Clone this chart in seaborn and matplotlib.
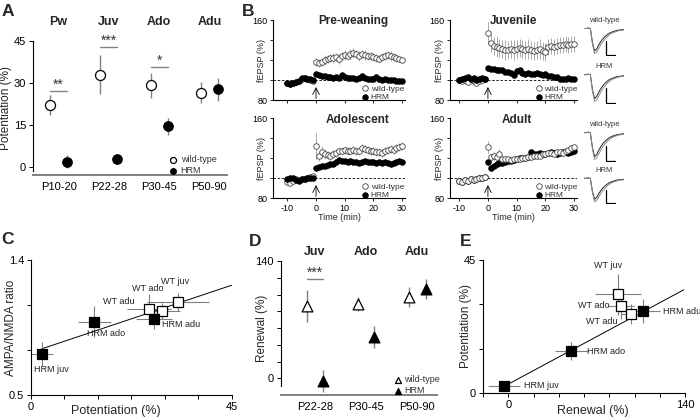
import numpy as np
import matplotlib
matplotlib.use("Agg")
import matplotlib.pyplot as plt
import seaborn as sns

# ---------------- data ----------------
# A: potentiation by age
ages_a = ["P10-20", "P22-28", "P30-45", "P50-90"]
stages_a = ["Pw", "Juv", "Ado", "Adu"]
pot_wt = [22.0, 33.0, 29.2, 26.5]
pot_wt_err = [3.5, 7.0, 4.5, 3.7]
pot_hrm = [1.8, 2.7, 14.5, 27.7]
pot_hrm_err = [2.2, 1.5, 3.0, 4.2]
sig_a_group = [0, 1, 2]
sig_a_y = [27.2, 42.9, 35.7]
sig_a_text = ["**", "***", "*"]

# B: fEPSP time courses (one point per minute, -10 .. 30)
minutes = list(range(-10, 31))
pw_wt = [97, 96, 97, 98, 99, 101, 102, 101, 100, 99,
         118, 117, 118, 120, 121, 122, 122, 123, 121, 124,
         125, 124, 126, 127, 126, 124, 126, 125, 124, 124,
         123, 122, 121, 123, 124, 125, 124, 123, 122, 121, 120]
pw_wt_err = [1, 1, 1, 1, 1, 1, 1, 1, 1, 1,
             4, 4, 4, 5, 4, 4, 5, 4, 5, 4,
             5, 4, 5, 5, 4, 5, 4, 5, 4, 4,
             4, 4, 4, 4, 4, 4, 5, 4, 4, 3, 3]
pw_hrm = [97, 96, 97, 98, 99, 102, 102, 101, 101, 100,
          106, 105, 104, 104, 103, 103, 102, 103, 102, 105,
          103, 102, 102, 102, 101, 102, 104, 102, 101, 101,
          101, 103, 101, 100, 101, 100, 100, 100, 99, 99, 99]
pw_hrm_err = [1, 1, 1, 1, 1, 1, 1, 1, 1, 1,
              2, 2, 2, 2, 2, 2, 2, 2, 2, 2,
              2, 2, 2, 2, 2, 2, 2, 2, 2, 2,
              2, 2, 2, 2, 2, 2, 2, 2, 2, 2, 2]

juv_wt = [100, 99, 100, 98, 101, 99, 97, 99, 100, 101,
          147, 137, 134, 133, 132, 131, 130, 130, 131, 130,
          131, 132, 131, 130, 131, 130, 129, 130, 131, 129,
          128, 133, 134, 133, 134, 135, 135, 136, 135, 136, 136]
juv_wt_err = [2, 2, 2, 2, 2, 2, 2, 2, 2, 2,
              11, 9, 9, 10, 9, 9, 10, 9, 9, 10,
              9, 9, 9, 9, 10, 9, 9, 9, 10, 9,
              9, 8, 8, 8, 8, 8, 8, 8, 8, 8, 8]
juv_hrm = [100, 101, 102, 103, 101, 102, 100, 101, 102, 101,
           112, 111, 111, 110, 110, 110, 108, 108, 107, 105,
           109, 110, 107, 106, 107, 106, 106, 107, 106, 105,
           106, 104, 104, 103, 103, 101, 101, 101, 102, 101, 101]
juv_hrm_err = [1, 1, 1, 1, 1, 1, 1, 1, 1, 1,
               2, 2, 2, 2, 2, 2, 2, 2, 2, 2,
               2, 2, 2, 2, 2, 2, 2, 2, 2, 2,
               2, 2, 2, 2, 2, 2, 2, 2, 2, 2, 2]

ado_wt = [96, 95, 97, 99, 98, 99, 99, 100, 101, 102,
          132, 122, 126, 124, 123, 122, 124, 125, 127, 127,
          128, 127, 127, 128, 127, 127, 130, 129, 128, 127,
          127, 126, 126, 125, 127, 128, 129, 128, 130, 131, 132]
ado_wt_err = [1, 1, 1, 1, 1, 1, 1, 1, 1, 1,
              13, 5, 6, 5, 4, 4, 4, 4, 4, 4,
              4, 4, 4, 4, 4, 4, 4, 4, 4, 4,
              4, 4, 4, 4, 4, 4, 4, 4, 4, 4, 4]
ado_hrm = [99, 100, 100, 98, 97, 99, 99, 100, 100, 100,
           110, 111, 112, 112, 113, 114, 114, 116, 118, 117,
           117, 116, 117, 116, 116, 115, 116, 117, 116, 116,
           116, 115, 116, 115, 116, 115, 114, 115, 116, 117, 116]
ado_hrm_err = [1, 1, 1, 1, 1, 1, 1, 1, 1, 1,
               2, 2, 2, 2, 2, 2, 2, 2, 2, 2,
               2, 2, 2, 2, 2, 2, 2, 2, 2, 2,
               2, 2, 2, 2, 2, 2, 2, 2, 2, 2, 2]

adu_wt = [97, 96, 98, 97, 99, 98, 99, 100, 100, 101,
          131, 121, 122, 121, 124, 119, 119, 119, 118, 119,
          119, 119, 120, 120, 121, 121, 122, 122, 122, 124,
          124, 125, 125, 124, 126, 126, 125, 127, 128, 130, 131]
adu_wt_err = [1, 1, 1, 1, 1, 1, 1, 1, 1, 1,
              6, 4, 4, 4, 5, 3, 3, 3, 3, 3,
              3, 3, 3, 3, 3, 3, 3, 3, 3, 3,
              3, 3, 3, 3, 3, 3, 3, 3, 3, 3, 3]
adu_hrm = [97, 96, 98, 97, 99, 98, 99, 100, 100, 101,
           116, 110, 112, 114, 115, 115, 116, 117, 117, 118,
           119, 120, 120, 120, 121, 126, 124, 124, 125, 124,
           124, 125, 126, 125, 124, 125, 126, 126, 125, 126, 127]
adu_hrm_err = [1, 1, 1, 1, 1, 1, 1, 1, 1, 1,
               2, 2, 2, 2, 2, 2, 2, 2, 2, 2,
               2, 2, 2, 2, 2, 2, 2, 2, 2, 2,
               2, 2, 2, 2, 2, 2, 2, 2, 2, 2, 2]

# example traces (arbitrary units)
trace_pre = [0.0, 0.0, 0.02, 0.0, -0.55, -0.9, -0.82, -0.66, -0.52, -0.41,
             -0.32, -0.25, -0.19, -0.15, -0.12, -0.09, -0.07, -0.06, -0.05, -0.04]
trace_post = [0.0, 0.0, 0.02, 0.0, -0.6, -1.0, -0.95, -0.8, -0.65, -0.52,
              -0.42, -0.33, -0.26, -0.2, -0.16, -0.13, -0.1, -0.08, -0.07, -0.06]

# C: AMPA/NMDA vs potentiation
c_labels = ["WT juv", "WT ado", "WT adu", "HRM adu", "HRM ado", "HRM juv"]
c_geno = ["WT", "WT", "WT", "HRM", "HRM", "HRM"]
c_pot = [32.9, 26.4, 29.3, 27.5, 14.2, 2.4]
c_pot_err = [7.0, 5.0, 4.0, 4.0, 3.7, 2.5]
c_ratio = [1.12, 1.073, 1.06, 1.01, 0.99, 0.773]
c_ratio_err = [0.06, 0.10, 0.05, 0.07, 0.10, 0.08]
c_label_off = [(-3, 20), (-1, 21), (-43, 9), (27, -6), (12, -12), (10, -15)]

# D: renewal by age
ages_d = ["P22-28", "P30-45", "P50-90"]
stages_d = ["Juv", "Ado", "Adu"]
ren_wt = [86, 88.5, 97]
ren_wt_err = [19, 8, 12]
ren_hrm = [-3.6, 49, 106.5]
ren_hrm_err = [13, 13, 12]

# E: potentiation vs renewal
e_labels = ["WT juv", "WT ado", "WT adu", "HRM adu", "HRM ado", "HRM juv"]
e_geno = ["WT", "WT", "WT", "HRM", "HRM", "HRM"]
e_ren = [87, 89.4, 97, 107, 50, -3.2]
e_ren_err = [18, 10, 8, 13.5, 13, 12.5]
e_pot = [33.4, 29.4, 26.7, 27.7, 14.2, 2.4]
e_pot_err = [7, 4.5, 3.5, 4, 3, 1.5]
e_label_off = [(-10, 29), (-27, 1), (-29, -7), (39, 0), (35, 0), (37, 0)]

# ---------------- style ----------------
sns.set_theme(style="ticks")
plt.rcParams["font.family"] = ["Liberation Sans", "DejaVu Sans"]
plt.rcParams["axes.edgecolor"] = "black"
plt.rcParams["axes.linewidth"] = 0.8
plt.rcParams["xtick.color"] = "black"
plt.rcParams["ytick.color"] = "black"
plt.rcParams["axes.unicode_minus"] = False

W, H = 700, 420
GRAY = "#808080"
fig = plt.figure(figsize=(7, 4.2), dpi=100)


def px_box(x0, y0, x1, y1):
    return [x0 / W, 1 - y1 / H, (x1 - x0) / W, (y1 - y0) / H]


def letter(x, y, s):
    fig.text(x / W, 1 - y / H, s, fontsize=12.5, fontweight="bold", ha="center", va="center")


def place_ylabel(ax, text, size, xfrac):
    ax.set_ylabel(text, fontsize=size)
    ax.yaxis.label.set_va("center")
    ax.yaxis.set_label_coords(xfrac, 0.5)


def place_xlabel(ax, text, size, xfrac, yfrac):
    ax.set_xlabel(text, fontsize=size)
    ax.xaxis.label.set_va("center")
    ax.xaxis.set_label_coords(xfrac, yfrac)


# ---------------- A ----------------
axA = fig.add_axes(px_box(33, 41, 227, 175))
grp = np.arange(len(ages_a))
off = 0.17
axA.errorbar(grp - off, pot_wt, yerr=pot_wt_err, fmt="none", ecolor=GRAY, elinewidth=1.0, zorder=2)
axA.errorbar(grp + off, pot_hrm, yerr=pot_hrm_err, fmt="none", ecolor=GRAY, elinewidth=1.0, zorder=2)
sns.scatterplot(x=grp - off, y=pot_wt, ax=axA, marker="o", s=52, color="white",
                edgecolor="black", linewidth=0.9, zorder=3, label="wild-type")
sns.scatterplot(x=grp + off, y=pot_hrm, ax=axA, marker="o", s=46, color="black",
                edgecolor="black", linewidth=0.9, zorder=3, label="HRM")
for g, yv, t in zip(sig_a_group, sig_a_y, sig_a_text):
    axA.plot([g - off, g + off], [yv, yv], color=GRAY, lw=1.0)
    axA.text(g, yv - 0.3, t, ha="center", va="bottom", fontsize=10, color="#333333")
for g, s in zip(grp, stages_a):
    axA.text(g, 51.8, s, ha="center", va="center", fontsize=9, fontweight="bold", clip_on=False)
axA.set_xlim(-0.51, 3.35)
axA.set_ylim(-3, 45)
axA.set_yticks([0, 15, 30, 45])
axA.set_xticks(grp)
axA.set_xticklabels(ages_a)
axA.tick_params(axis="x", length=0, pad=5, labelsize=8)
axA.tick_params(axis="y", length=3, width=0.7, pad=2, labelsize=8)
axA.spines[["top", "right"]].set_visible(False)
axA.spines["left"].set_bounds(-1.5, 45)
axA.spines["bottom"].set_color(GRAY)
axA.spines["bottom"].set_linewidth(1.4)
place_ylabel(axA, "Potentiation (%)", 8.5, -0.137)
axA.legend(loc="lower left", bbox_to_anchor=(0.7, 0.0), frameon=False, fontsize=6.5,
           handletextpad=0.3, labelspacing=0.2, borderaxespad=0, borderpad=0,
           handlelength=1.0, markerscale=0.6, labelcolor="#333333")
letter(8, 12, "A")


# ---------------- B ----------------
def ltp_panel(box, xmin, wt, wt_err, hrm, hrm_err, title, title_x, bottom_row, wt_on_top=False):
    ax = fig.add_axes(px_box(*box))
    ax.axhline(100, color="black", lw=0.6, ls=(0, (3, 2)), zorder=1)
    z_wt, z_hrm = (5, 4) if wt_on_top else (3, 4)
    ax.errorbar(minutes, wt, yerr=wt_err, fmt="none", ecolor="#9a9a9a", elinewidth=0.6, zorder=2)
    ax.errorbar(minutes, hrm, yerr=hrm_err, fmt="none", ecolor="#555555", elinewidth=0.6, zorder=2)
    sns.scatterplot(x=minutes, y=wt, ax=ax, marker="o", s=16, color="white", edgecolor="#444444",
                    linewidth=0.6, zorder=z_wt, label="wild-type")
    sns.scatterplot(x=minutes, y=hrm, ax=ax, marker="o", s=16, color="black", edgecolor="black",
                    linewidth=0.6, zorder=z_hrm, label="HRM")
    ax.annotate("", xy=(0, 93), xytext=(0, 81.5),
                arrowprops=dict(arrowstyle="->", lw=0.6, color="black", shrinkA=0, shrinkB=0))
    ax.set_xlim(xmin, 31)
    ax.set_ylim(80, 160)
    ax.set_xticks([-10, 0, 10, 20, 30])
    ax.set_yticks([80, 100, 120, 140, 160])
    ax.set_yticklabels(["80", "", "", "", "160"])
    ax.tick_params(axis="both", length=2.5, width=0.6, pad=1.5, labelsize=6.5)
    if bottom_row:
        ax.set_xlabel("Time (min)", fontsize=6.5, labelpad=0)
    else:
        ax.tick_params(axis="x", labelbottom=False)
    ax.spines[["top", "right"]].set_visible(False)
    place_ylabel(ax, "fEPSP (%)", 6.5, -0.085)
    ax.text(title_x, 0.99 if not bottom_row else 0.975, title, transform=ax.transAxes,
            ha="center", va="center", fontsize=8.5, fontweight="bold")
    ax.legend(loc="lower left", bbox_to_anchor=(0.66, -0.01), frameon=False, fontsize=6,
              handletextpad=0.05, labelspacing=0.05, borderaxespad=0, borderpad=0,
              handlelength=1.2, labelcolor="#333333")
    return ax


ltp_panel((273, 20, 405, 100), -15, pw_wt, pw_wt_err, pw_hrm, pw_hrm_err, "Pre-weaning", 0.61, False)
ltp_panel((450, 20, 577, 100), -13.2, juv_wt, juv_wt_err, juv_hrm, juv_hrm_err, "Juvenile", 0.50, False)
ltp_panel((273, 118, 405, 198), -15, ado_wt, ado_wt_err, ado_hrm, ado_hrm_err, "Adolescent", 0.64, True)
ltp_panel((450, 118, 577, 198), -13.2, adu_wt, adu_wt_err, adu_hrm, adu_hrm_err, "Adult", 0.53, True,
          wt_on_top=True)
letter(248, 11, "B")

# example traces
trace_boxes = [(584, 26, 624, 56), (584, 72, 624, 104), (584, 130, 624, 162), (584, 176, 624, 204)]
trace_names = ["wild-type", "HRM", "wild-type", "HRM"]
for (x0, y0, x1, y1), name in zip(trace_boxes, trace_names):
    axt = fig.add_axes(px_box(x0, y0, x1, y1))
    sns.lineplot(x=range(len(trace_pre)), y=trace_pre, ax=axt, color="#222222", lw=0.7)
    sns.lineplot(x=range(len(trace_post)), y=trace_post, ax=axt, color="#8a8a8a", lw=0.7)
    axt.plot([10.5, 10.5, 14.5], [-0.5, -1.05, -1.05], color="black", lw=0.9)
    axt.set_xlim(0, 19)
    axt.set_ylim(-1.1, 0.1)
    axt.axis("off")
    fig.text((x0 + 20) / W, 1 - (y0 - 6) / H, name, fontsize=5.5, ha="center", va="center", color="#333333")

# ---------------- C ----------------
axC = fig.add_axes(px_box(31, 260, 232, 395))
fit_c = np.polyfit(c_pot, c_ratio, 1)
xl = np.array([min(c_pot), 45])
axC.plot(xl, np.polyval(fit_c, xl), color="black", lw=0.7, zorder=1)
axC.errorbar(c_pot, c_ratio, xerr=c_pot_err, yerr=c_ratio_err, fmt="none", ecolor=GRAY,
             elinewidth=0.8, zorder=2)
for geno, face in [("WT", "white"), ("HRM", "black")]:
    xs = [p for p, g in zip(c_pot, c_geno) if g == geno]
    ys = [r for r, g in zip(c_ratio, c_geno) if g == geno]
    sns.scatterplot(x=xs, y=ys, ax=axC, marker="s", s=42, color=face, edgecolor="black",
                    linewidth=0.9, zorder=3)
for lab, x, y, (dx, dy) in zip(c_labels, c_pot, c_ratio, c_label_off):
    axC.annotate(lab, (x, y), xytext=(dx * 0.72, dy * 0.72), textcoords="offset points",
                 ha="center", va="center", fontsize=6.5, color="#222222")
axC.set_xlim(0, 45)
axC.set_ylim(0.5, 1.4)
axC.set_xticks([0, 7.5, 15, 22.5, 30, 37.5, 45])
axC.set_xticklabels(["0", "", "", "", "", "", "45"])
axC.set_yticks([0.5, 0.8, 1.1, 1.4])
axC.set_yticklabels(["0.5", "", "", "1.4"])
axC.tick_params(axis="both", length=3, width=0.7, pad=2, labelsize=8)
axC.spines[["top", "right"]].set_visible(False)
place_ylabel(axC, "AMPA/NMDA ratio", 8.5, -0.1)
place_xlabel(axC, "Potentiation (%)", 9, 0.42, -0.12)
letter(7, 240, "C")

# ---------------- D ----------------
axD = fig.add_axes(px_box(281, 261, 437, 395))
grp_d = np.arange(len(ages_d))
off_d = 0.165
axD.errorbar(grp_d - off_d, ren_wt, yerr=ren_wt_err, fmt="none", ecolor=GRAY, elinewidth=1.0, zorder=2)
axD.errorbar(grp_d + off_d, ren_hrm, yerr=ren_hrm_err, fmt="none", ecolor=GRAY, elinewidth=1.0, zorder=2)
sns.scatterplot(x=grp_d - off_d, y=ren_wt, ax=axD, marker="^", s=60, color="white",
                edgecolor="black", linewidth=0.9, zorder=3, label="wild-type")
sns.scatterplot(x=grp_d + off_d, y=ren_hrm, ax=axD, marker="^", s=60, color="black",
                edgecolor="black", linewidth=0.9, zorder=3, label="HRM")
axD.plot([0 - off_d, 0 + off_d], [118.7, 118.7], color=GRAY, lw=1.0)
axD.text(0, 118, "***", ha="center", va="bottom", fontsize=10, color="#333333")
for g, s in zip(grp_d, stages_d):
    axD.text(g, 150.4, s, ha="center", va="center", fontsize=9, fontweight="bold", clip_on=False)
axD.set_xlim(-0.667, 2.39)
axD.set_ylim(-20, 140)
axD.set_yticks([0, 20, 40, 60, 80, 100, 120, 140])
axD.set_yticklabels(["0", "", "", "", "", "", "", "140"])
axD.set_xticks(grp_d)
axD.set_xticklabels(ages_d)
axD.tick_params(axis="x", length=0, pad=5, labelsize=8)
axD.tick_params(axis="y", length=3, width=0.7, pad=2, labelsize=8)
axD.spines[["top", "right"]].set_visible(False)
axD.spines["left"].set_bounds(-9, 140)
axD.spines["bottom"].set_color(GRAY)
axD.spines["bottom"].set_linewidth(1.4)
place_ylabel(axD, "Renewal (%)", 8.5, -0.12)
axD.legend(loc="lower left", bbox_to_anchor=(0.72, 0.0), frameon=False, fontsize=6.5,
           handletextpad=0.2, labelspacing=0.2, borderaxespad=0, borderpad=0,
           handlelength=1.0, markerscale=0.55, labelcolor="#333333")
letter(255, 242, "D")

# ---------------- E ----------------
axE = fig.add_axes(px_box(483, 260, 685, 393))
hrm_x = [r for r, g in zip(e_ren, e_geno) if g == "HRM"]
hrm_y = [p for p, g in zip(e_pot, e_geno) if g == "HRM"]
fit_e = np.polyfit(hrm_x, hrm_y, 1)
xl = np.array([min(e_ren), 139])
axE.plot(xl, np.polyval(fit_e, xl), color="black", lw=0.7, zorder=1)
axE.errorbar(e_ren, e_pot, xerr=e_ren_err, yerr=e_pot_err, fmt="none", ecolor=GRAY,
             elinewidth=0.8, zorder=2)
for geno, face in [("WT", "white"), ("HRM", "black")]:
    xs = [r for r, g in zip(e_ren, e_geno) if g == geno]
    ys = [p for p, g in zip(e_pot, e_geno) if g == geno]
    sns.scatterplot(x=xs, y=ys, ax=axE, marker="s", s=42, color=face, edgecolor="black",
                    linewidth=0.9, zorder=3)
for lab, x, y, (dx, dy) in zip(e_labels, e_ren, e_pot, e_label_off):
    axE.annotate(lab, (x, y), xytext=(dx * 0.72, dy * 0.72), textcoords="offset points",
                 ha="center", va="center", fontsize=6.5, color="#222222", annotation_clip=False)
axE.set_xlim(-20, 140)
axE.set_ylim(0, 45)
axE.set_xticks([-20, 0, 20, 40, 60, 80, 100, 120, 140])
axE.set_xticklabels(["", "0", "", "", "", "", "", "", "140"])
axE.set_yticks([0, 15, 30, 45])
axE.set_yticklabels(["0", "", "", "45"])
axE.tick_params(axis="both", length=3, width=0.7, pad=2, labelsize=8)
axE.spines[["top", "right"]].set_visible(False)
place_ylabel(axE, "Potentiation (%)", 8.5, -0.085)
place_xlabel(axE, "Renewal (%)", 9, 0.545, -0.135)
letter(466, 242, "E")

fig.savefig("out.png", dpi=100)
